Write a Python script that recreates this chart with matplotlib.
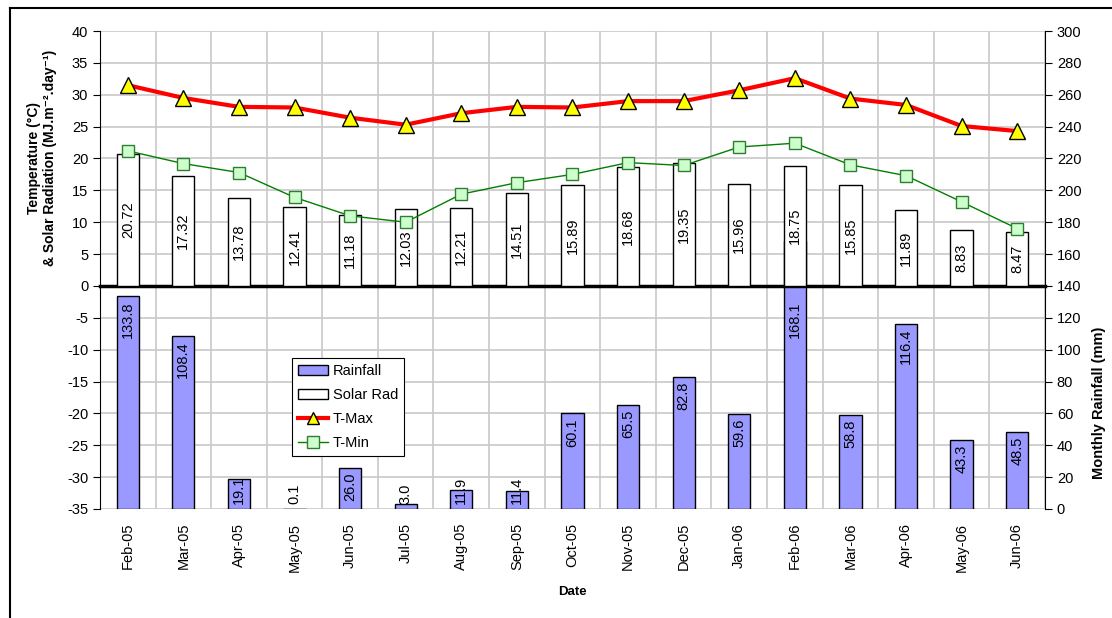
import numpy as np
import matplotlib.pyplot as plt
from matplotlib.lines import Line2D
from matplotlib.patches import Patch

plt.rcParams['font.family'] = ['Liberation Sans', 'DejaVu Sans']
plt.rcParams['axes.unicode_minus'] = False

# data
months = ['Feb-05', 'Mar-05', 'Apr-05', 'May-05', 'Jun-05', 'Jul-05', 'Aug-05', 'Sep-05',
          'Oct-05', 'Nov-05', 'Dec-05', 'Jan-06', 'Feb-06', 'Mar-06', 'Apr-06', 'May-06', 'Jun-06']
rainfall = [133.8, 108.4, 19.1, 0.1, 26.0, 3.0, 11.9, 11.4, 60.1, 65.5, 82.8, 59.6, 168.1,
            58.8, 116.4, 43.3, 48.5]
solar = [20.72, 17.32, 13.78, 12.41, 11.18, 12.03, 12.21, 14.51, 15.89, 18.68, 19.35, 15.96,
         18.75, 15.85, 11.89, 8.83, 8.47]
t_max = [31.5, 29.5, 28.1, 28.0, 26.4, 25.3, 27.1, 28.1, 28.0, 29.0, 29.0, 30.7, 32.6,
         29.4, 28.4, 25.1, 24.3]
t_min = [21.2, 19.2, 17.8, 13.9, 11.0, 10.0, 14.4, 16.2, 17.5, 19.35, 18.9, 21.8, 22.4,
         19.0, 17.3, 13.2, 9.0]

x = np.arange(len(months))
bw = 0.4

fig = plt.figure(figsize=(11.12, 6.18), dpi=100)
ax = fig.add_axes([0.0899, 0.1764, 0.8498, 0.7734])
ax2 = ax.twinx()

# rainfall on the right axis, drawn behind everything
ax2.set_zorder(1)
ax.set_zorder(2)
ax.patch.set_visible(False)

ax2.bar(x, rainfall, bw, color='#9999FF', edgecolor='black', linewidth=1, zorder=2)
ax2.set_ylim(0, 300)
ax2.set_yticks(np.arange(0, 301, 20))
for xi, v in zip(x, rainfall):
    if v < 22:
        ax2.text(xi, 3, f'{v:.1f}', rotation=90, ha='center', va='bottom', fontsize=10.5)
    else:
        ax2.text(xi, min(v - 3, 130), f'{v:.1f}', rotation=90, ha='center', va='top', fontsize=10.5)

# gridlines on the right axes (lowest layer)
ax2.set_xlim(-0.5, len(months) - 0.5)
ax.set_xlim(-0.5, len(months) - 0.5)
for yv in np.arange(-35, 41, 5):
    ax2.axhline((yv + 35) * 4, color='#c8c8c8', lw=1.2, zorder=0)
for b in np.arange(-0.5, len(months), 1):
    ax2.axvline(b, color='#c8c8c8', lw=1.2, zorder=0)

ax.bar(x, solar, bw, color='white', edgecolor='black', linewidth=1, zorder=3)
for xi, v in zip(x, solar):
    ax.text(xi, v / 2, f'{v:.2f}', rotation=90, ha='center', va='center', fontsize=10.5, zorder=4)

ax.plot(x, t_max, color='#FF0000', lw=3, marker='^', ms=11, mfc='#FFFF00', mec='black',
        mew=1, zorder=5)
ax.plot(x, t_min, color='#008000', lw=1, marker='s', ms=9, mfc='#CCFFCC', mec='#2E7D32',
        mew=1, zorder=5)

ax.set_ylim(-35, 40)
ax.set_yticks(np.arange(-35, 41, 5))

# category axis drawn at zero
ax.spines['bottom'].set_position(('data', 0))
ax.spines['bottom'].set_linewidth(2.5)
ax.spines['top'].set_visible(False)
ax.spines['right'].set_visible(False)
ax.set_xticks(np.arange(-0.5, len(months), 1))
ax.set_xticklabels([])
ax.tick_params(axis='x', direction='out', length=4, width=2)
ax2.spines['top'].set_visible(False)
ax2.spines['bottom'].set_visible(False)
ax2.spines['left'].set_visible(False)
ax2.set_xticks([])

sec = ax.secondary_xaxis('bottom')
sec.set_xticks(x)
sec.set_xticklabels(months, rotation=90, fontsize=10.5)
sec.tick_params(length=0, pad=10)
sec.spines['bottom'].set_visible(False)
sec.set_xlabel('Date', fontsize=9.5, fontweight='bold', labelpad=10)

ax.tick_params(axis='y', labelsize=10.5, length=5)
ax2.tick_params(axis='y', labelsize=10.5, length=5)

ax.set_ylabel('Temperature (°C)\n& Solar Radiation (MJ.m⁻².day⁻¹)', fontsize=10,
              fontweight='bold')
ax.yaxis.set_label_coords(-0.045, 0.734)
ax2.set_ylabel('Monthly Rainfall (mm)', fontsize=10.5, fontweight='bold')
ax2.yaxis.set_label_coords(1.050, 0.222)

handles = [Patch(facecolor='#9999FF', edgecolor='black', label='Rainfall'),
           Patch(facecolor='white', edgecolor='black', label='Solar Rad'),
           Line2D([], [], color='#FF0000', lw=3, marker='^', ms=9, mfc='#FFFF00', mec='black',
                  label='T-Max'),
           Line2D([], [], color='#008000', lw=1, marker='s', ms=8, mfc='#CCFFCC', mec='#2E7D32',
                  label='T-Min')]
leg = ax.legend(handles=handles, loc='upper left', bbox_to_anchor=(0.203, 0.316), fontsize=10.5,
                frameon=True, fancybox=False, edgecolor='black', framealpha=1,
                borderpad=0.4, labelspacing=0.7, handlelength=2.1, handletextpad=0.3,
                borderaxespad=0)
leg.get_frame().set_linewidth(0.8)
leg.set_zorder(10)

# outer frame (left and top edges)
fig.add_artist(Line2D([10 / 1112, 10 / 1112], [0, 1 - 8 / 618], color='black', lw=1.5,
                      transform=fig.transFigure))
fig.add_artist(Line2D([10 / 1112, 1], [1 - 8 / 618, 1 - 8 / 618], color='black', lw=1.5,
                      transform=fig.transFigure))

fig.savefig('out.png', dpi=100)
